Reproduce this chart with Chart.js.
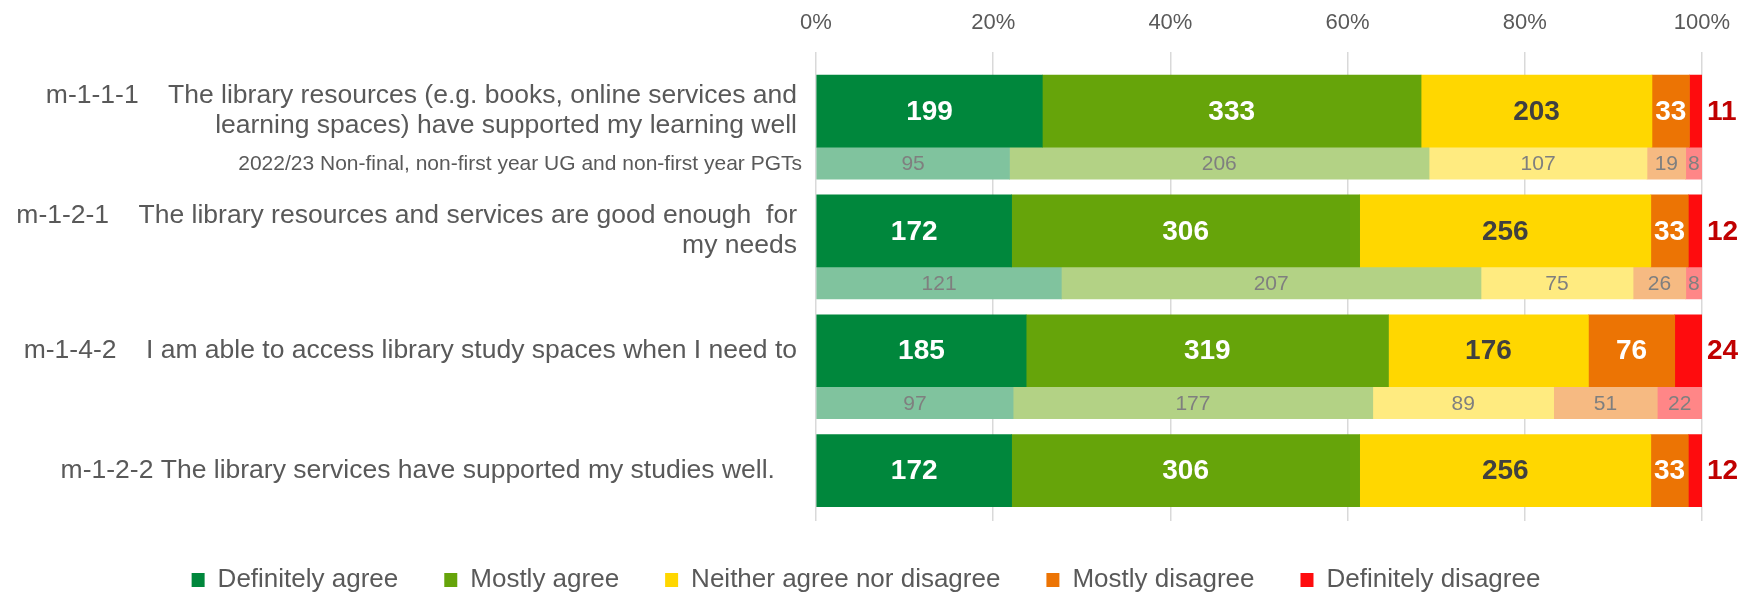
<!DOCTYPE html>
<html>
<head>
<meta charset="utf-8">
<title>Library questions</title>
<script src="https://cdn.jsdelivr.net/npm/chart.js@4/dist/chart.umd.min.js"></script>
<style>
  html, body { margin: 0; padding: 0; background: #fff; }
  #box { width: 1748px; height: 595px; }
</style>
</head>
<body>
<div id="box"><canvas id="myBars" width="1748" height="595"></canvas></div>
<script>
/* global Chart */

// question labels, one per main row
const rowLabels = [
  ['m-1-1-1    The library resources (e.g. books, online services and', 'learning spaces) have supported my learning well'],
  ['m-1-2-1    The library resources and services are good enough  for', 'my needs'],
  'm-1-4-2    I am able to access library study spaces when I need to',
  'm-1-2-2 The library services have supported my studies well.   '
];
const compLabel = '2022/23 Non-final, non-first year UG and non-first year PGTs';

const categories = ['Definitely agree', 'Mostly agree', 'Neither agree nor disagree', 'Mostly disagree', 'Definitely disagree'];

// this year (counts)
const definitelyAgree = [199, 172, 185, 172];
const mostlyAgree = [333, 306, 319, 306];
const neitherAgree = [203, 256, 176, 256];
const mostlyDisagree = [33, 33, 76, 33];
const definitelyDisagree = [11, 12, 24, 12];

// 2022/23 comparison (counts)
const prevDefinitelyAgree = [95, 121, 97];
const prevMostlyAgree = [206, 207, 177];
const prevNeitherAgree = [107, 75, 89];
const prevMostlyDisagree = [19, 26, 51];
const prevDefinitelyDisagree = [8, 8, 22];

const xTickStep = 20;

const bars = (function () {
  'use strict';

  const colors = [[0, 135, 60], [102, 164, 10], [255, 215, 0], [236, 116, 4], [254, 12, 14]];
  const fontFamily = "'Liberation Sans', Arial, sans-serif";
  const grey = '#595959';

  function rgb (c) {
    return 'rgb(' + c.join(',') + ')';
  }

  // half way to white, kept opaque so grid lines stay hidden
  function pale (c) {
    return rgb(c.map(function (v) { return Math.round(v / 2 + 127.5); }));
  }

  function toPercent (allSeries) {
    // each row is scaled to 100 %
    let totals = allSeries[0].map(function (v, i) {
      return allSeries.reduce(function (s, ser) { return s + ser[i]; }, 0);
    });
    return allSeries.map(function (ser) {
      return ser.map(function (v, i) { return v / totals[i] * 100; });
    });
  }

  function makeDatasets () {
    const main = [definitelyAgree, mostlyAgree, neitherAgree, mostlyDisagree, definitelyDisagree];
    const prev = [prevDefinitelyAgree, prevMostlyAgree, prevNeitherAgree, prevMostlyDisagree, prevDefinitelyDisagree];
    const mainPct = toPercent(main);
    const prevPct = toPercent(prev);
    let sets = [];
    for (let i = 0; i < main.length; i++) {
      sets.push({
        label: categories[i],
        data: mainPct[i],
        counts: main[i],
        kind: 'main',
        catIndex: i,
        stack: 'main',
        barThickness: 72,
        backgroundColor: rgb(colors[i])
      });
    }
    for (let i = 0; i < prev.length; i++) {
      sets.push({
        label: categories[i] + ' 2022/23',
        data: prevPct[i],
        counts: prev[i],
        kind: 'prev',
        catIndex: i,
        stack: 'prev',
        barThickness: 32,
        backgroundColor: pale(colors[i])
      });
    }
    return sets;
  }

  // numbers written on the bars
  const valueLabels = {
    id: 'valueLabels',
    afterLayout (chart) {
      // legend sits a bit right of the middle in the original
      chart.legend.left += 15;
      chart.legend.right += 15;
    },
    afterDatasetsDraw (chart) {
      const ctx = chart.ctx;
      ctx.save();
      ctx.textBaseline = 'middle';
      chart.data.datasets.forEach(function (ds, di) {
        const meta = chart.getDatasetMeta(di);
        meta.data.forEach(function (bar, i) {
          const txt = String(ds.counts[i]);
          const mid = (bar.x + bar.base) / 2;
          if (ds.kind === 'main') {
            ctx.font = 'bold 28px ' + fontFamily;
            if (ds.catIndex === 4) {
              ctx.textAlign = 'left';
              ctx.fillStyle = '#C00000';
              ctx.fillText(txt, bar.x + 5, bar.y + 1);
              return;
            }
            ctx.textAlign = 'center';
            ctx.fillStyle = ds.catIndex === 2 ? '#404040' : '#ffffff';
            ctx.fillText(txt, mid, bar.y + 1);
          } else {
            ctx.font = '21px ' + fontFamily;
            ctx.textAlign = 'center';
            ctx.fillStyle = '#7F7F7F';
            ctx.fillText(txt, mid, bar.y + 1);
          }
        });
      });
      // label of the first comparison bar
      const firstPrev = chart.getDatasetMeta(5).data[0];
      ctx.font = '21px ' + fontFamily;
      ctx.textAlign = 'right';
      ctx.fillStyle = grey;
      ctx.fillText(compLabel, chart.chartArea.left - 14, firstPrev.y + 1);
      ctx.restore();
    }
  };

  function init () {
    const ctx = document.getElementById('myBars');
    Chart.defaults.font.family = fontFamily;
    Chart.defaults.color = grey;
    return new Chart(ctx, {
      type: 'bar',
      data: {
        labels: rowLabels.map(function (l, i) { return i; }),
        datasets: makeDatasets()
      },
      options: {
        indexAxis: 'y',
        responsive: false,
        animation: false,
        layout: { padding: { top: -6, right: 46, bottom: -8, left: 0 } },
        plugins: {
          tooltip: { enabled: false },
          legend: {
            position: 'bottom',
            labels: {
              filter: function (item) { return item.datasetIndex < 5; },
              boxWidth: 13,
              boxHeight: 14,
              padding: 46,
              color: grey,
              font: { size: 26 }
            }
          }
        },
        scales: {
          x: {
            position: 'top',
            stacked: true,
            min: 0,
            max: 100,
            border: { display: false },
            grid: { color: '#D9D9D9', lineWidth: 1.5, drawTicks: false },
            ticks: {
              stepSize: xTickStep,
              padding: 16,
              color: grey,
              font: { size: 22 },
              callback: function (v) { return v + '%'; }
            }
          },
          y: {
            type: 'linear',
            reverse: true,
            offset: false,
            min: -0.79,
            max: 3.12,
            border: { display: false },
            grid: { display: false, drawTicks: false },
            afterBuildTicks: function (scale) {
              scale.ticks = rowLabels.map(function (l, i) { return { value: i }; });
            },
            afterFit: function (scale) {
              scale.width = 816;
              scale.paddingTop = 0;
              scale.paddingBottom = 0;
            },
            ticks: {
              autoSkip: false,
              padding: 19,
              labelOffset: -36,
              color: grey,
              font: { size: 26.5, lineHeight: 1.13 },
              callback: function (v) { return rowLabels[Math.round(v)]; }
            }
          }
        }
      },
      plugins: [valueLabels]
    });
  }

  return {
    init: init
  };
}());

window.addEventListener('load', bars.init);
</script>
</body>
</html>
